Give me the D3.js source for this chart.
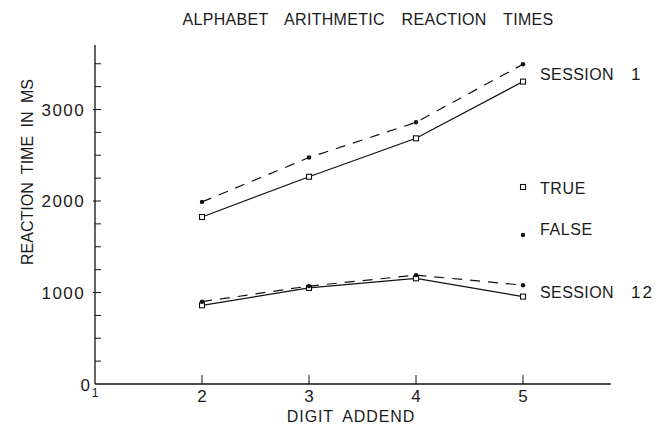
<!DOCTYPE html>
<html>
<head>
<meta charset="utf-8">
<script src="https://cdn.jsdelivr.net/npm/d3@7"></script>
<style>
  body { margin: 0; background: #fff; }
  svg text { font-family: "Liberation Sans", Arial, sans-serif; fill: #1a1a1a; }
</style>
</head>
<body>
<div id="chart"></div>
<script>
// digit addend values on the x axis
const addends = [2, 3, 4, 5];
const xTickLabels = ["1", "2", "3", "4", "5"];
const yTickLabels = [0, 1000, 2000, 3000];

// reaction times (ms)
const session1True = [1825, 2265, 2685, 3305];
const session1False = [1990, 2475, 2860, 3495];
const session12True = [860, 1050, 1155, 955];
const session12False = [900, 1070, 1190, 1080];

const sessionNames = ["SESSION", "SESSION"];
const sessionNumbers = ["1", "12"];
const legendNames = ["TRUE", "FALSE"];

const width = 670, height = 425;

const svg = d3.select("#chart").append("svg")
    .attr("width", width)
    .attr("height", height);

const x = d3.scaleLinear().domain([1, 5]).range([95, 523]);
const y = d3.scaleLinear().domain([0, 3000]).range([384, 109.5]);

// title
svg.append("text")
    .attr("x", 368).attr("y", 25)
    .attr("text-anchor", "middle")
    .attr("font-size", 16)
    .attr("letter-spacing", 0.3)
    .attr("word-spacing", 12)
    .text("ALPHABET ARITHMETIC REACTION TIMES");

// y axis line
svg.append("line")
    .attr("x1", x(1)).attr("x2", x(1))
    .attr("y1", y(0)).attr("y2", y(3705))
    .attr("stroke", "#111").attr("stroke-width", 1.3);

// y ticks every 250, labelled every 1000
const yTicks = d3.range(250, 3501, 250);
svg.append("g").selectAll("line")
    .data(yTicks)
    .join("line")
    .attr("x1", d => d % 1000 === 0 ? x(1) - 2 : x(1))
    .attr("x2", x(1) + 6)
    .attr("y1", d => y(d)).attr("y2", d => y(d))
    .attr("stroke", "#111").attr("stroke-width", 1);

svg.append("g").selectAll("text")
    .data(yTickLabels)
    .join("text")
    .attr("x", d => d === 0 ? 90 : 85)
    .attr("y", d => d === 0 ? y(d) + 1 : y(d))
    .attr("dy", "0.36em")
    .attr("text-anchor", "end")
    .attr("font-size", 17)
    .attr("letter-spacing", d => d === 0 ? 0 : 1.4)
    .text(d => d);

// x axis line
svg.append("line")
    .attr("x1", x(1)).attr("x2", x(5.82))
    .attr("y1", y(0)).attr("y2", y(0))
    .attr("stroke", "#111").attr("stroke-width", 1.3);

svg.append("g").selectAll("line")
    .data(addends)
    .join("line")
    .attr("x1", d => x(d)).attr("x2", d => x(d))
    .attr("y1", y(0)).attr("y2", y(0) - 9)
    .attr("stroke", "#111").attr("stroke-width", 1);

svg.append("g").selectAll("text")
    .data(xTickLabels)
    .join("text")
    .attr("x", d => x(+d))
    .attr("y", d => d === "1" ? y(0) + 13 : y(0) + 18)
    .attr("text-anchor", "middle")
    .attr("font-size", d => d === "1" ? 12 : 17)
    .text(d => d);

// axis titles
svg.append("text")
    .attr("x", 351).attr("y", 422)
    .attr("text-anchor", "middle")
    .attr("font-size", 16)
    .attr("letter-spacing", 0.9)
    .attr("word-spacing", 4)
    .text("DIGIT ADDEND");

svg.append("text")
    .attr("transform", "translate(33,172) rotate(-90)")
    .attr("text-anchor", "middle")
    .attr("font-size", 16)
    .attr("word-spacing", 4)
    .text("REACTION TIME IN MS");

// series
const line = d3.line().x((d, i) => x(addends[i])).y(d => y(d));

const series = [
    { values: session1True, dashed: false },
    { values: session1False, dashed: true },
    { values: session12True, dashed: false },
    { values: session12False, dashed: true }
];

svg.append("g").selectAll("path")
    .data(series)
    .join("path")
    .attr("d", d => line(d.values))
    .attr("fill", "none")
    .attr("stroke", "#111")
    .attr("stroke-width", 1.2)
    .attr("stroke-dasharray", d => d.dashed ? "10,8" : null);

function drawSquares(vals) {
    svg.append("g").selectAll("rect")
        .data(vals)
        .join("rect")
        .attr("x", (d, i) => x(addends[i]) - 2.5)
        .attr("y", d => y(d) - 2.5)
        .attr("width", 5).attr("height", 5)
        .attr("fill", "#fff").attr("stroke", "#111").attr("stroke-width", 1.1);
}
function drawDots(vals) {
    svg.append("g").selectAll("circle")
        .data(vals)
        .join("circle")
        .attr("cx", (d, i) => x(addends[i]))
        .attr("cy", d => y(d))
        .attr("r", 2.2)
        .attr("fill", "#111");
}
drawSquares(session1True);
drawSquares(session12True);
drawDots(session1False);
drawDots(session12False);

// session labels next to the last points
const lastPairs = [
    [session1True[3], session1False[3]],
    [session12True[3], session12False[3]]
];
const sessionLabels = svg.append("g").selectAll("text")
    .data(lastPairs)
    .join("text")
    .attr("y", d => (y(d[0]) + y(d[1])) / 2 + 7)
    .attr("font-size", 16)
    .attr("letter-spacing", 0.4);
sessionLabels.append("tspan")
    .attr("x", 540)
    .text((d, i) => sessionNames[i]);
sessionLabels.append("tspan")
    .attr("x", 631)
    .attr("font-size", 17)
    .attr("letter-spacing", 2)
    .text((d, i) => sessionNumbers[i]);

// legend
const legendY = [187, 235];
svg.append("rect")
    .attr("x", x(5) - 2.5).attr("y", legendY[0] - 2.5)
    .attr("width", 5).attr("height", 5)
    .attr("fill", "#fff").attr("stroke", "#111").attr("stroke-width", 1.1);
svg.append("circle")
    .attr("cx", x(5)).attr("cy", legendY[1])
    .attr("r", 2.2).attr("fill", "#111");
svg.append("g").selectAll("text")
    .data(legendNames)
    .join("text")
    .attr("x", 540)
    .attr("y", (d, i) => i === 0 ? legendY[0] + 7 : legendY[1])
    .attr("font-size", 16)
    .attr("letter-spacing", 0.6)
    .text(d => d);
</script>
</body>
</html>
